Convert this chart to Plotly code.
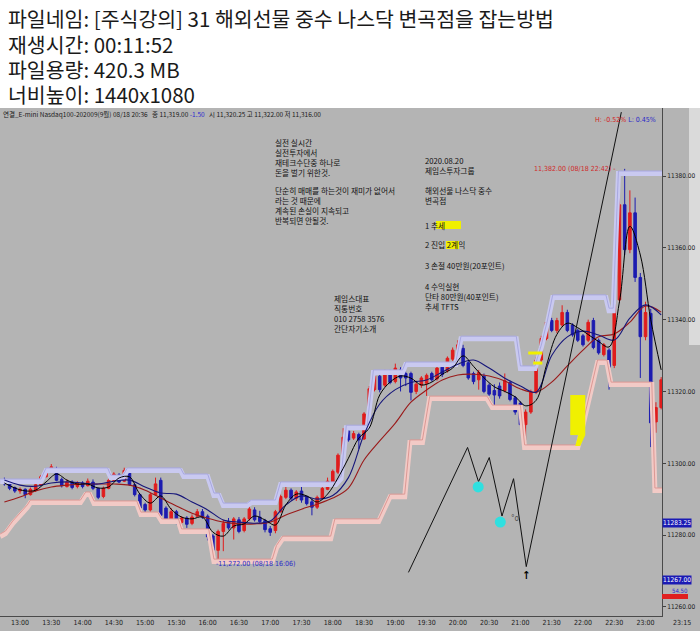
import plotly.graph_objects as go

DAY = '2020-08-18 '

# 5분봉 (12:45 ~ 23:15)
times = [
    '12:45', '12:50', '12:55',
    '13:00', '13:05', '13:10', '13:15', '13:20', '13:25', '13:30', '13:35', '13:40', '13:45', '13:50', '13:55',
    '14:00', '14:05', '14:10', '14:15', '14:20', '14:25', '14:30', '14:35', '14:40', '14:45', '14:50', '14:55',
    '15:00', '15:05', '15:10', '15:15', '15:20', '15:25', '15:30', '15:35', '15:40', '15:45', '15:50', '15:55',
    '16:00', '16:05', '16:10', '16:15', '16:20', '16:25', '16:30', '16:35', '16:40', '16:45', '16:50', '16:55',
    '17:00', '17:05', '17:10', '17:15', '17:20', '17:25', '17:30', '17:35', '17:40', '17:45', '17:50', '17:55',
    '18:00', '18:05', '18:10', '18:15', '18:20', '18:25', '18:30', '18:35', '18:40', '18:45', '18:50', '18:55',
    '19:00', '19:05', '19:10', '19:15', '19:20', '19:25', '19:30', '19:35', '19:40', '19:45', '19:50', '19:55',
    '20:00', '20:05', '20:10', '20:15', '20:20', '20:25', '20:30', '20:35', '20:40', '20:45', '20:50', '20:55',
    '21:00', '21:05', '21:10', '21:15', '21:20', '21:25', '21:30', '21:35', '21:40', '21:45', '21:50', '21:55',
    '22:00', '22:05', '22:10', '22:15', '22:20', '22:25', '22:30', '22:35', '22:40', '22:45', '22:50', '22:55',
    '23:00', '23:05', '23:10', '23:15',
]
opens = [
    11295.25, 11294.25, 11293.25,
    11292.25, 11292.75, 11291.25, 11292.5, 11294.0, 11296.25, 11297.75, 11298.5, 11295.5, 11293.5, 11294.75, 11293.5,
    11294.5, 11293.75, 11294.75, 11293.0, 11290.75, 11293.0, 11295.25, 11296.75, 11295.0, 11297.25, 11294.0, 11291.25,
    11288.5, 11287.0, 11291.25, 11295.25, 11287.5, 11284.25, 11286.5, 11283.5, 11284.75, 11283.25, 11285.25, 11286.5,
    11285.25, 11279.75, 11275.75, 11281.0, 11283.75, 11282.0, 11284.25, 11281.25, 11284.5, 11287.0, 11285.0, 11284.0,
    11281.75, 11281.25, 11286.5, 11290.5, 11292.5, 11290.25, 11292.25, 11290.5, 11289.25, 11287.75, 11290.25, 11292.75,
    11294.75, 11297.5, 11302.25, 11309.0, 11307.0, 11308.0, 11306.75, 11313.75, 11320.5, 11324.25, 11321.75, 11325.25,
    11322.75, 11326.0, 11325.0, 11325.0, 11320.0, 11321.75, 11322.25, 11325.0, 11323.5, 11326.75, 11325.75, 11329.0,
    11331.0, 11332.0, 11328.0, 11325.0, 11323.25, 11324.25, 11321.75, 11320.25, 11321.5, 11320.25, 11322.5, 11318.25,
    11316.75, 11310.75, 11314.25, 11319.75, 11328.75, 11334.75, 11339.75, 11337.0, 11338.5, 11342.0, 11338.5, 11337.0,
    11335.5, 11334.25, 11339.75, 11334.25, 11330.25, 11331.5, 11327.25, 11345.5, 11372.0, 11359.5, 11369.75, 11351.75,
    11335.25, 11341.75, 11311.5, 11315.5,
]
highs = [
    11296.0, 11294.75, 11293.5,
    11293.25, 11293.0, 11293.25, 11294.5, 11296.75, 11298.5, 11299.75, 11299.0, 11296.0, 11295.5, 11295.25, 11295.0,
    11295.0, 11295.75, 11295.5, 11293.25, 11293.5, 11295.75, 11297.5, 11297.25, 11298.75, 11297.75, 11294.25, 11291.5,
    11289.0, 11291.75, 11296.0, 11296.0, 11288.0, 11287.5, 11287.0, 11285.25, 11285.25, 11285.75, 11287.25, 11287.25,
    11285.75, 11280.25, 11281.5, 11284.25, 11284.75, 11285.0, 11285.0, 11285.0, 11288.5, 11287.75, 11286.75, 11284.5,
    11282.5, 11287.0, 11291.25, 11293.5, 11293.0, 11292.5, 11294.0, 11291.0, 11290.0, 11291.0, 11293.5, 11296.0,
    11298.25, 11302.75, 11309.75, 11310.25, 11309.0, 11308.5, 11314.25, 11321.5, 11325.5, 11325.0, 11326.0, 11326.0,
    11327.75, 11326.75, 11325.5, 11325.5, 11323.0, 11324.25, 11325.0, 11325.5, 11327.0, 11327.25, 11329.75, 11332.25,
    11334.25, 11333.0, 11328.5, 11325.5, 11326.0, 11325.0, 11322.25, 11322.0, 11322.5, 11325.0, 11323.0, 11318.75,
    11317.25, 11315.0, 11320.5, 11329.5, 11335.5, 11340.0, 11340.5, 11340.5, 11344.0, 11342.75, 11339.0, 11337.5,
    11336.0, 11340.0, 11340.5, 11334.75, 11333.5, 11332.0, 11347.0, 11378.5, 11382.0, 11376.0, 11374.0, 11353.0,
    11345.0, 11343.0, 11317.0, 11324.0,
]
lows = [
    11293.75, 11292.5, 11291.75,
    11291.5, 11290.25, 11291.0, 11292.0, 11293.75, 11296.0, 11297.5, 11295.0, 11293.25, 11293.25, 11292.75, 11293.0,
    11293.0, 11293.5, 11292.5, 11290.0, 11290.25, 11292.75, 11295.0, 11294.5, 11294.75, 11293.75, 11290.75, 11287.0,
    11286.25, 11286.5, 11291.0, 11285.0, 11283.75, 11283.75, 11283.0, 11281.5, 11282.0, 11282.75, 11285.0, 11284.5,
    11278.5, 11275.25, 11272.0, 11275.5, 11281.5, 11278.75, 11280.5, 11280.75, 11284.0, 11283.75, 11283.25, 11280.75,
    11279.75, 11280.5, 11286.25, 11290.0, 11289.75, 11289.5, 11289.0, 11288.25, 11285.5, 11287.25, 11290.0, 11292.5,
    11294.5, 11297.0, 11302.0, 11306.0, 11306.5, 11304.0, 11306.5, 11313.5, 11320.0, 11319.75, 11321.25, 11322.0,
    11322.25, 11320.0, 11321.5, 11317.5, 11319.25, 11321.0, 11318.75, 11322.75, 11323.0, 11324.0, 11325.25, 11328.5,
    11330.5, 11326.75, 11323.25, 11322.0, 11320.5, 11319.5, 11318.75, 11316.0, 11318.0, 11319.75, 11317.25, 11313.5,
    11310.25, 11306.5, 11313.75, 11319.25, 11328.25, 11334.25, 11336.5, 11336.25, 11338.0, 11336.5, 11335.25, 11333.75,
    11332.5, 11333.75, 11331.75, 11330.25, 11329.75, 11320.5, 11326.5, 11344.75, 11358.0, 11358.5, 11350.5, 11323.75,
    11334.25, 11304.5, 11308.5, 11315.0,
]
closes = [
    11294.25, 11293.0, 11292.25,
    11292.75, 11291.25, 11292.75, 11294.0, 11296.25, 11298.0, 11299.0, 11295.25, 11293.75, 11294.75, 11293.25, 11294.5,
    11293.5, 11295.0, 11293.0, 11290.5, 11293.0, 11295.25, 11297.0, 11294.75, 11298.0, 11294.0, 11291.25, 11287.5,
    11287.0, 11291.25, 11294.25, 11285.5, 11284.5, 11286.5, 11283.5, 11284.75, 11283.0, 11285.0, 11286.5, 11285.0,
    11279.5, 11275.75, 11281.0, 11283.25, 11282.0, 11284.5, 11281.0, 11284.5, 11287.25, 11284.25, 11283.75, 11281.5,
    11280.75, 11286.5, 11290.75, 11292.5, 11290.25, 11292.0, 11289.75, 11288.75, 11287.75, 11290.5, 11293.0, 11295.0,
    11297.75, 11302.25, 11307.25, 11306.5, 11308.25, 11306.5, 11313.75, 11320.75, 11324.25, 11320.5, 11325.25, 11322.5,
    11326.5, 11323.75, 11323.75, 11319.75, 11322.0, 11323.75, 11324.5, 11323.25, 11326.5, 11324.75, 11329.25, 11331.5,
    11333.0, 11327.25, 11323.75, 11322.75, 11325.25, 11320.0, 11319.25, 11319.0, 11318.75, 11323.0, 11317.75, 11314.25,
    11310.75, 11314.25, 11319.75, 11328.75, 11334.75, 11339.25, 11337.0, 11339.75, 11342.0, 11337.0, 11335.75, 11334.25,
    11333.0, 11339.25, 11332.25, 11330.75, 11333.0, 11326.75, 11345.5, 11372.0, 11359.5, 11369.75, 11351.75, 11335.25,
    11342.0, 11311.25, 11315.5, 11323.25,
]

# 이동평균선
ma_times = [
    '12:45', '13:00', '13:15', '13:30', '13:45', '14:00', '14:15', '14:30', '14:45', '15:00', '15:15',
    '15:30', '15:45', '16:00', '16:15', '16:30', '16:45', '17:00', '17:15', '17:30', '17:45', '18:00',
    '18:15', '18:30', '18:45', '19:00', '19:15', '19:30', '19:45', '20:00', '20:15', '20:30', '20:45',
    '21:00', '21:15', '21:30', '21:45', '22:00', '22:15', '22:30', '22:45', '23:00', '23:15',
]
ma_long = [
    11289.2, 11290.6, 11292.3, 11293.4, 11293.9, 11294.2, 11294.2, 11294.2, 11293.9, 11292.5, 11290.3,
    11288.1, 11286.1, 11284.7, 11283.6, 11283.1, 11283.1, 11283.6, 11285.6, 11287.2, 11288.6, 11290.3,
    11293.1, 11300.9, 11306.2, 11311.2, 11317.0, 11320.4, 11323.2, 11324.6, 11324.8, 11324.3, 11322.9,
    11320.7, 11319.8, 11322.6, 11327.1, 11331.5, 11335.2, 11336.0, 11339.3, 11343.8, 11342.1,
]
ma_mid = [
    11295.3, 11293.9, 11293.6, 11294.5, 11294.8, 11294.5, 11294.2, 11295.0, 11295.3, 11293.4, 11291.7,
    11291.4, 11289.2, 11287.0, 11284.2, 11283.6, 11283.3, 11283.9, 11288.4, 11290.9, 11290.0, 11291.0,
    11296.0, 11308.0, 11316.5, 11320.5, 11322.5, 11323.2, 11325.4, 11327.6, 11328.75, 11326.5, 11323.7,
    11321.5, 11319.8, 11330.0, 11335.2, 11336.8, 11335.7, 11334.3, 11340.4, 11344.1, 11341.3,
]
ma_short_times = [
    '12:45', '12:55', '13:05', '13:15', '13:25', '13:35', '13:45', '13:55', '14:05', '14:15', '14:25',
    '14:35', '14:45', '14:55', '15:05', '15:15', '15:25', '15:35', '15:45', '15:55', '16:05', '16:15',
    '16:25', '16:35', '16:45', '16:55', '17:05', '17:15', '17:25', '17:35', '17:45', '17:55', '18:05',
    '18:15', '18:25', '18:35', '18:45', '18:55', '19:05', '19:15', '19:25', '19:35', '19:45', '19:55',
    '20:05', '20:15', '20:25', '20:35', '20:45', '20:55', '21:05', '21:15', '21:25', '21:35', '21:45',
    '21:55', '22:05', '22:15', '22:25', '22:35', '22:45', '22:55', '23:05', '23:15',
]
ma_short = [
    11294.5, 11293.1, 11292.3, 11292.5, 11294.8, 11297.0, 11295.3, 11294.2, 11294.2, 11293.1, 11293.4,
    11295.9, 11296.2, 11291.4, 11288.9, 11290.9, 11287.2, 11285.0, 11284.5, 11285.0, 11280.8, 11279.7,
    11282.5, 11283.1, 11285.3, 11284.2, 11282.8, 11288.4, 11291.4, 11290.9, 11289.2, 11291.4, 11295.9,
    11301.4, 11307.0, 11309.8, 11319.0, 11322.6, 11324.3, 11323.7, 11321.8, 11322.6, 11324.8, 11326.5,
    11329.9, 11327.0, 11323.8, 11321.3, 11320.0, 11318.5, 11316.0, 11317.5, 11327.3, 11335.9, 11339.0,
    11337.75, 11335.85, 11333.9, 11332.4, 11345.0, 11366.0, 11358.0, 11340.0, 11326.0,
]

# 채널 상단 / 하단
upper_times = [
    '12:41', '13:20', '13:25', '14:24', '14:27', '14:39', '14:43', '15:34', '15:37', '16:00', '16:06',
    '16:11', '16:15', '16:38', '16:42', '17:05', '17:10', '18:03', '18:08', '18:13', '18:33', '18:39',
    '19:07', '19:10', '19:58', '20:03', '20:56', '21:00', '21:14', '21:20', '21:26', '21:31', '22:22',
    '22:25', '22:29', '22:34', '23:16',
]
upper_band = [
    11295.6, 11295.6, 11298.7, 11298.7, 11296.7, 11296.7, 11298.7, 11298.7, 11297.0, 11297.0, 11291.7,
    11291.7, 11288.9, 11288.9, 11289.75, 11289.75, 11294.8, 11294.8, 11296.4, 11310.6, 11310.6, 11326.0,
    11326.0, 11328.2, 11328.2, 11335.4, 11335.4, 11327.1, 11327.1, 11332.9, 11339.9, 11346.9, 11346.9,
    11343.2, 11343.2, 11381.4, 11381.4,
]
lower_times = [
    '12:41', '12:46', '12:53', '13:00', '13:07', '13:10', '13:58', '14:03', '14:07', '14:11', '14:52',
    '14:56', '15:12', '15:16', '15:32', '15:35', '16:01', '16:06', '17:02', '17:06', '17:12', '17:58',
    '18:02', '18:44', '18:55', '19:09', '19:14', '19:26', '19:33', '20:28', '20:33', '21:00', '21:04',
    '21:55', '22:14', '22:23', '22:27', '23:06', '23:09', '23:16',
]
lower_band = [
    11280.3, 11281.1, 11283.9, 11286.1, 11288.4, 11289.75, 11289.75, 11292.0, 11292.0, 11289.5, 11289.5,
    11286.4, 11286.4, 11284.5, 11284.5, 11281.7, 11281.7, 11273.3, 11273.3, 11277.1, 11279.7, 11279.7,
    11284.5, 11284.5, 11291.4, 11291.4, 11306.5, 11306.5, 11318.7, 11318.7, 11316.2, 11316.2, 11305.1,
    11305.1, 11328.75, 11328.75, 11322.6, 11322.6, 11293.1, 11293.1,
]

# 손으로 그린 추세선 / 표시
zigzag_times = ['19:12:36', '20:09:18', '20:19:48', '20:30:06', '20:42:18', '20:53:24', '21:05:36', '22:36:48']
zigzag_prices = [11269.6, 11304.4, 11294.85, 11301.6, 11285.3, 11295.7, 11271.2, 11397.8]
dot_times = ['20:19:30', '20:40:42']
dot_prices = [11293.4, 11283.6]
box_times = ['21:47:48', '22:02:12']
box_prices = [11307.85, 11319.0]
slant_times = ['21:55:30', '22:02:12', '21:57:24', '21:52:36', '21:55:30']
slant_prices = [11307.85, 11307.85, 11304.8, 11304.8, 11307.85]
dash_times = [['21:07:30', '21:21:00'], ['21:12:18', '21:21:00']]
dash_prices = [11330.7, 11327.9]

x_tick_labels = ['13:00', '13:30', '14:00', '14:30', '15:00', '15:30', '16:00', '16:30', '17:00', '17:30',
                 '18:00', '18:30', '19:00', '19:30', '20:00', '20:30', '21:00', '21:30', '22:00', '22:30', '23:00']
y_tick_values = [11260, 11280, 11300, 11320, 11340, 11360, 11380]

header_lines = [
    '파일네임: [주식강의] 31 해외선물 중수 나스닥 변곡점을 잡는방법',
    '재생시간: 00:11:52',
    '파일용량: 420.3 MB',
    '너비높이: 1440x1080',
]
header_y = [18, 43.5, 69, 94]
# 메모 블록: (첫 줄 y 픽셀, 줄들)
memo_left = [
    (142, ['실전 실시간', '실전투자에서', '재테크수단중 하나로', '돈을 벌기 위한것.']),
    (190, ['단순히 매매를 하는것이 재미가 없어서', '라는 것 때문에', '계속된 손실이 지속되고', '반복되면 안될것.']),
]
memo_mid = [
    (160, ['2020.08.20', '제임스투자그룹']),
    (190, ['해외선물 나스닥 중수', '변곡점']),
    (225, ['1 추세']),
    (245, ['2 진입 2계익']),
    (265, ['3 손절 40만원(20포인트)']),
    (286, ['4 수익실현', '단타 80만원(40포인트)', '추세 TFTS']),
]
memo_contact = [
    (298, ['제임스대표', '직통번호', '010 2758 3576', '간단자기소개']),
]

FONT_KR = 'Noto Sans CJK KR'
FONT_NUM = 'Liberation Sans Narrow, DejaVu Sans Condensed, Liberation Sans, sans-serif'
BG = '#b4b4b4'
BAND_SHIFT = 0.7
MEMO_SIZE = 7.7
HEADER_SIZE = 20.5

W, H = 700, 631
PLOT_R, PLOT_T, PLOT_B = 662, 108, 616


def stamp(values):
    return [DAY + v for v in values]


def px(x):
    return x / PLOT_R


def py(y):
    return (PLOT_B - y) / (PLOT_B - PLOT_T)


fig = go.Figure()

# 채널 밴드
fig.add_trace(go.Scatter(x=stamp(lower_times), y=[v - BAND_SHIFT for v in lower_band], mode='lines',
                         line=dict(color='#f2cac6', width=5), hoverinfo='skip'))
fig.add_trace(go.Scatter(x=stamp(lower_times), y=lower_band, mode='lines',
                         line=dict(color='#dc9894', width=1), hoverinfo='skip'))
fig.add_trace(go.Scatter(x=stamp(upper_times), y=[v - BAND_SHIFT for v in upper_band], mode='lines',
                         line=dict(color='#c9c9f0', width=5), hoverinfo='skip'))
fig.add_trace(go.Scatter(x=stamp(upper_times), y=upper_band, mode='lines',
                         line=dict(color='#a8a8e0', width=1), hoverinfo='skip'))

# 캔들
fig.add_trace(go.Candlestick(x=stamp(times), open=opens, high=highs, low=lows, close=closes,
                             increasing=dict(line=dict(color='#e01c1c', width=1), fillcolor='#e01c1c'),
                             decreasing=dict(line=dict(color='#1c1cb0', width=1), fillcolor='#1c1cb0'),
                             whiskerwidth=0))

# 이동평균
fig.add_trace(go.Scatter(x=stamp(ma_times), y=ma_long, mode='lines',
                         line=dict(color='#9a1a1a', width=1.1, shape='spline'), hoverinfo='skip'))
fig.add_trace(go.Scatter(x=stamp(ma_times), y=ma_mid, mode='lines',
                         line=dict(color='#16167a', width=1.1, shape='spline'), hoverinfo='skip'))
fig.add_trace(go.Scatter(x=stamp(ma_short_times), y=ma_short, mode='lines',
                         line=dict(color='#000000', width=1, shape='spline'), hoverinfo='skip'))

# 노란 형광펜 표시
fig.add_trace(go.Scatter(x=stamp(slant_times), y=slant_prices, mode='lines', fill='toself',
                         fillcolor='#f0f000', line=dict(width=0), hoverinfo='skip'))
for dt, dp in zip(dash_times, dash_prices):
    fig.add_trace(go.Scatter(x=stamp(dt), y=[dp, dp], mode='lines',
                             line=dict(color='#f0f000', width=3), hoverinfo='skip'))
fig.add_shape(type='rect', xref='x', yref='y', x0=DAY + box_times[0], x1=DAY + box_times[1],
              y0=box_prices[0], y1=box_prices[1], fillcolor='#f0f000', line=dict(width=0))

# 손 그림 추세선
fig.add_trace(go.Scatter(x=stamp(zigzag_times), y=zigzag_prices, mode='lines',
                         line=dict(color='#111111', width=1), hoverinfo='skip'))
fig.add_trace(go.Scatter(x=stamp(dot_times), y=dot_prices, mode='markers',
                         marker=dict(color='#2fe0e0', size=11, line=dict(width=0)), hoverinfo='skip'))

# 차트 바깥 회색 배경 + 오른쪽 툴바
fig.add_shape(type='rect', xref='paper', yref='paper', x0=0, x1=px(W), y0=py(H), y1=1,
              fillcolor=BG, line=dict(width=0), layer='below')
fig.add_shape(type='rect', xref='paper', yref='paper', x0=px(689), x1=px(W), y0=py(345), y1=1,
              fillcolor='#dadada', line=dict(width=0), layer='below')
fig.add_shape(type='rect', xref='paper', yref='paper', x0=px(662), x1=px(688), y0=py(599), y1=py(594),
              fillcolor='#e02020', line=dict(width=0))

# 텍스트 형광펜
fig.add_shape(type='rect', xref='paper', yref='paper', x0=px(436), x1=px(461), y0=py(229), y1=py(221),
              fillcolor='#f0f000', line=dict(width=0))
fig.add_shape(type='rect', xref='paper', yref='paper', x0=px(446), x1=px(459), y0=py(249), y1=py(241),
              fillcolor='#f0f000', line=dict(width=0))

annotations = []
for line, y in zip(header_lines, header_y):
    annotations.append(dict(text=line, x=px(6), y=py(y), xref='paper', yref='paper',
                            xanchor='left', yanchor='middle', showarrow=False,
                            font=dict(family=FONT_KR, size=HEADER_SIZE, color='#1a1a1a')))


def memo(blocks, x):
    step = MEMO_SIZE * 1.3
    for first_y, lines in blocks:
        centre = first_y + (len(lines) - 1) * step / 2
        annotations.append(dict(text='<br>'.join(lines), x=px(x), y=py(centre), xref='paper', yref='paper',
                                xanchor='left', yanchor='middle', align='left', showarrow=False,
                                font=dict(family=FONT_KR, size=MEMO_SIZE, color='#111111')))


memo(memo_left, 273)
memo(memo_mid, 423)
memo(memo_contact, 332)

annotations += [
    dict(text='연결_E-mini Nasdaq100-202009(9월) 08/18 20:36 &nbsp; 종 11,319.00 '
              '<span style="color:#2a2ad0">-1.50</span> &nbsp; 시 11,320.25 고 11,322.00 저 11,316.00',
         x=px(1), y=py(114), xref='paper', yref='paper', xanchor='left', yanchor='middle', showarrow=False,
         font=dict(family=FONT_KR, size=6.5, color='#1a1a1a')),
    dict(text='<span style="color:#d42020">H: -0.52%</span> <span style="color:#2828c8">L: 0.45%</span>',
         x=px(658), y=py(120), xref='paper', yref='paper', xanchor='right', yanchor='middle', showarrow=False,
         font=dict(family=FONT_NUM, size=7)),
    dict(text='11,382.00 (08/18 22:42) -', x=DAY + '22:34', y=11382.0, xref='x', yref='y',
         xanchor='right', yanchor='middle', showarrow=False, font=dict(family=FONT_NUM, size=7, color='#d02a2a')),
    dict(text='-11,272.00 (08/18 16:06)', x=DAY + '16:06', y=11272.0, xref='x', yref='y',
         xanchor='left', yanchor='middle', showarrow=False, font=dict(family=FONT_NUM, size=7, color='#2a2ac8')),
    dict(text='°o', x=DAY + '20:49:18', y=11284.5, xref='x', yref='y', xanchor='left', yanchor='middle',
         showarrow=False, font=dict(family=FONT_NUM, size=8, color='#505050')),
    dict(text='<b>↑</b>', x=DAY + '21:05:36', y=11271.0, xref='x', yref='y', xanchor='center', yanchor='top',
         showarrow=False, font=dict(family=FONT_NUM, size=11, color='#000000')),
    dict(text='11283.25', x=1.0, y=11283.25, xref='paper', yref='y', xanchor='left', yanchor='middle',
         showarrow=False, bgcolor='#1a1ab4', borderpad=0, font=dict(family=FONT_NUM, size=6.5, color='white')),
    dict(text='11267.00', x=1.0, y=11267.5, xref='paper', yref='y', xanchor='left', yanchor='middle',
         showarrow=False, bgcolor='#1a1ab4', borderpad=0, font=dict(family=FONT_NUM, size=6.5, color='white')),
    dict(text='54.50', x=px(670), y=py(590), xref='paper', yref='paper', xanchor='left', yanchor='middle',
         showarrow=False, font=dict(family=FONT_NUM, size=6, color='#2a2ad0')),
    dict(text='23:15', x=px(671), y=py(623), xref='paper', yref='paper', xanchor='left', yanchor='middle',
         showarrow=False, font=dict(family=FONT_NUM, size=7, color='#202020')),
]

fig.update_layout(
    width=W, height=H,
    margin=dict(l=0, r=W - PLOT_R, t=PLOT_T, b=H - PLOT_B, pad=0),
    paper_bgcolor='white', plot_bgcolor=BG,
    showlegend=False,
    annotations=annotations,
    xaxis=dict(type='date', range=[DAY + '12:40:48', DAY + '23:15:48'],
               rangeslider=dict(visible=False),
               tickvals=stamp(x_tick_labels), ticktext=x_tick_labels,
               showgrid=False, zeroline=False, showline=True, linecolor='#4a4a4a', linewidth=1,
               ticks='', tickfont=dict(family=FONT_NUM, size=7, color='#202020')),
    yaxis=dict(side='right', range=[11257.45, 11398.95],
               tickvals=y_tick_values, ticktext=['%.2f' % v for v in y_tick_values],
               showgrid=False, zeroline=False, showline=True, linecolor='#4a4a4a', linewidth=1,
               ticks='outside', ticklen=3, tickcolor='#404040',
               tickfont=dict(family=FONT_NUM, size=6.5, color='#202020')),
)

fig.write_html('out.html', config={'displayModeBar': False},
               post_script="document.body.style.margin='0px';")
